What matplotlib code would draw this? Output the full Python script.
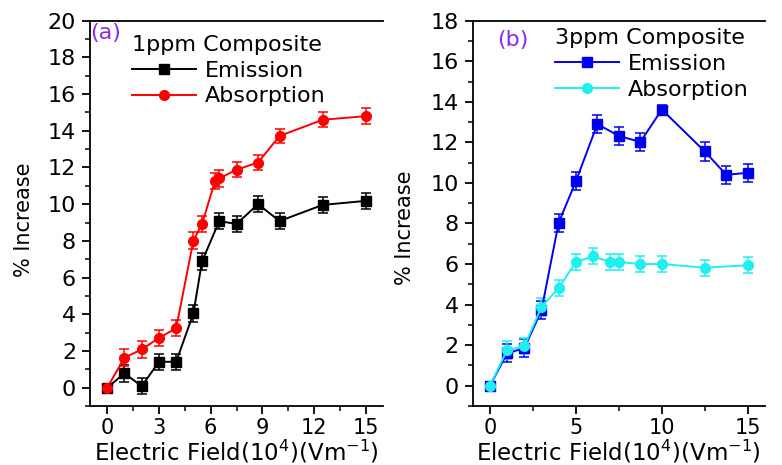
import matplotlib
matplotlib.use("Agg")
import matplotlib.pyplot as plt
from matplotlib.ticker import MultipleLocator
from matplotlib.lines import Line2D

plt.rcParams['font.family'] = ['DejaVu Sans']

# Panel (a): 1ppm composite
a_em_x = [0, 1, 2, 3, 4, 5, 5.5, 6.5, 7.5, 8.75, 10, 12.5, 15]
a_em_y = [0, 0.78, 0.08, 1.41, 1.41, 4.05, 6.88, 9.08, 8.92, 10.0, 9.08, 9.96, 10.18]
a_em_err = [0.1, 0.45, 0.45, 0.45, 0.45, 0.45, 0.45, 0.45, 0.45, 0.45, 0.45, 0.45, 0.45]
a_ab_x = [0, 1, 2, 3, 4, 5, 5.5, 6.25, 6.5, 7.5, 8.75, 10, 12.5, 15]
a_ab_y = [0, 1.64, 2.08, 2.71, 3.24, 8.02, 8.92, 11.25, 11.4, 11.88, 12.27, 13.72, 14.6, 14.8]
a_ab_err = [0.1, 0.45, 0.45, 0.45, 0.45, 0.45, 0.45, 0.45, 0.45, 0.4, 0.4, 0.4, 0.4, 0.45]

# Panel (b): 3ppm composite
b_em_x = [0, 1, 2, 3, 4, 5, 6.25, 7.5, 8.75, 10, 12.5, 13.75, 15]
b_em_y = [0, 1.6, 1.85, 3.72, 8.04, 10.08, 12.9, 12.32, 12.02, 13.62, 11.55, 10.4, 10.5]
b_em_err = [0.1, 0.45, 0.45, 0.45, 0.45, 0.45, 0.45, 0.45, 0.45, 0.2, 0.45, 0.45, 0.45]
b_ab_x = [0, 1, 2, 3, 4, 5, 6, 7, 7.5, 8.75, 10, 12.5, 15]
b_ab_y = [0, 1.76, 1.94, 3.88, 4.82, 6.1, 6.38, 6.1, 6.1, 6.0, 6.0, 5.82, 5.94]
b_ab_err = [0.1, 0.45, 0.4, 0.45, 0.4, 0.4, 0.4, 0.4, 0.4, 0.4, 0.4, 0.4, 0.4]

x_label = "Electric Field(10$^{4}$)(Vm$^{-1}$)"
y_label = "% Increase"
series_labels = ['Emission', 'Absorption']

fig = plt.figure(figsize=(7.82, 4.65), dpi=100)
axa = fig.add_axes([90/782, 59/465, 293/782, 385.3/465])
axb = fig.add_axes([472.7/782, 59/465, 292.3/782, 385.3/465])

purple = '#8C2BE6'

def style(ax, xmajor, xminor, ymajor, yminor):
    ax.spines['right'].set_visible(False)
    for s in ['left', 'bottom', 'top']:
        ax.spines[s].set_linewidth(1.3)
    ax.xaxis.set_major_locator(MultipleLocator(xmajor))
    ax.xaxis.set_minor_locator(MultipleLocator(xminor))
    ax.yaxis.set_major_locator(MultipleLocator(ymajor))
    ax.yaxis.set_minor_locator(MultipleLocator(yminor))
    ax.tick_params(which='major', direction='out', length=6, width=1.3,
                   top=False, right=False)
    ax.tick_params(axis='y', which='major', pad=4, labelsize=16)
    ax.tick_params(axis='x', which='major', pad=2.5, labelsize=15)
    ax.tick_params(which='minor', direction='out', length=3.5, width=1.1,
                   top=False, right=False)
    ax.set_xlabel(x_label, fontsize=16.5, labelpad=0.5)
    ax.set_ylabel(y_label, fontsize=15)

def draw(ax, xs1, ys1, e1, c1, xs2, ys2, e2, c2, title, anchor):
    kw = dict(lw=1.4, capsize=3.5, elinewidth=1.1, capthick=1.1)
    ax.errorbar(xs1, ys1, yerr=e1, color=c1, marker='s', ms=6.5, **kw)
    ax.errorbar(xs2, ys2, yerr=e2, color=c2, marker='o', ms=7, **kw)
    handles = [Line2D([], [], color=c1, marker='s', ms=6.5, lw=1.4),
               Line2D([], [], color=c2, marker='o', ms=7, lw=1.4)]
    ax.legend(handles, series_labels, title=title, loc='upper left',
              bbox_to_anchor=anchor, frameon=False, fontsize=16,
              title_fontsize=16, handlelength=2.9, handletextpad=0.4,
              labelspacing=0.25, borderaxespad=0, borderpad=0,
              alignment='left')

# ---- panel (a)
draw(axa, a_em_x, a_em_y, a_em_err, 'black', a_ab_x, a_ab_y, a_ab_err, '#FF0000',
     '1ppm Composite', (0.142, 0.962))
axa.set_xlim(-1, 16)
axa.set_ylim(-1, 20)
style(axa, 3, 1.5, 2, 1)
axa.text(0.0, 0.967, '(a)', transform=axa.transAxes, color=purple,
         fontsize=16, va='center', ha='left')

# ---- panel (b)
draw(axb, b_em_x, b_em_y, b_em_err, '#0000F0', b_ab_x, b_ab_y, b_ab_err, '#1EF0F0',
     '3ppm Composite', (0.28, 0.98))
axb.set_xlim(-1, 16)
axb.set_ylim(-1, 18)
style(axb, 5, 2.5, 2, 1)
axb.text(0.085, 0.95, '(b)', transform=axb.transAxes, color=purple,
         fontsize=16, va='center', ha='left')

axa.yaxis.set_label_coords(-0.19, 0.483)
axb.yaxis.set_label_coords(-0.197, 0.462)

fig.savefig('out.png', dpi=100)
